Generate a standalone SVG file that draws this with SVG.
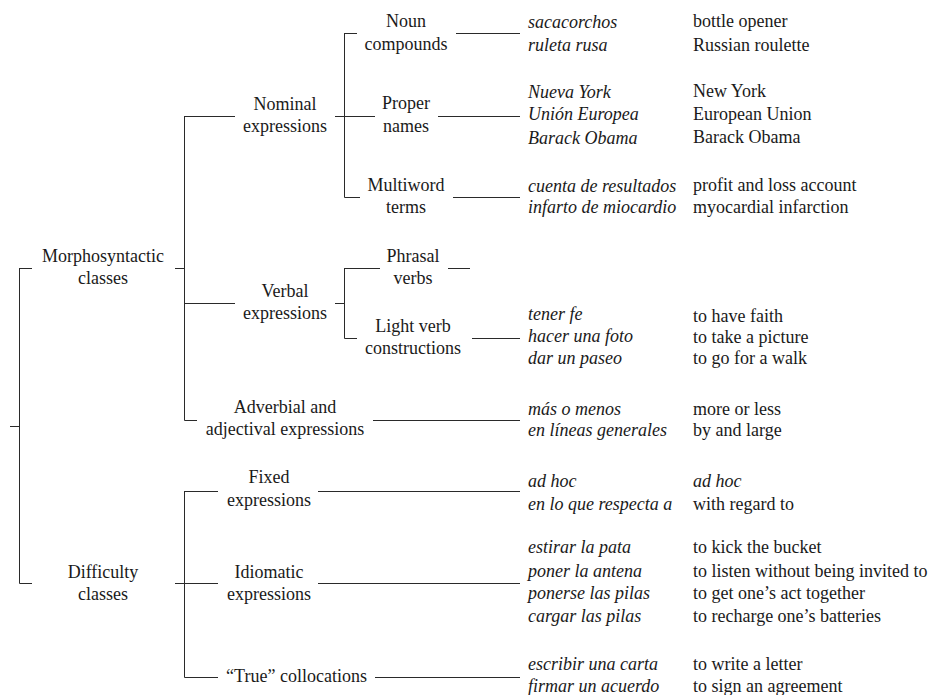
<svg xmlns="http://www.w3.org/2000/svg" width="941" height="695" viewBox="0 0 941 695">
<style>
text{font-family:"Liberation Serif","Times New Roman",serif;font-size:18px;fill:#1a1a1a}
.c{text-anchor:middle}
.i{font-style:italic}
.ln{stroke:#2a2a2a;stroke-width:1;fill:none}
</style>
<rect width="941" height="695" fill="#fff"/>
<g id="connectors" class="ln">
<path d="M10 426.5H19.5M19.5 268V583.5M19.5 268.5H32M19.5 583.5H32"/>
<path d="M175 268.5H184.5M184.5 116V420.5M184.5 116.5H235M184.5 303.5H235M184.5 420.5H197"/>
<path d="M175 583.5H184.5M184.5 491V677.5M184.5 491.5H218M184.5 583.5H218M184.5 677.5H218"/>
<path d="M335 116.5H344.5M344.5 33V197.5M344.5 33.5H357M344.5 116.5H375M344.5 197.5H360"/>
<path d="M335 303.5H344.5M344.5 268V338.5M344.5 268.5H380M344.5 338.5H357"/>
<path d="M456 33.5H520M438 116.5H520M453 197.5H520M448 268.5H470M472 338.5H520M373 420.5H520M318 491.5H520M318 583.5H520M375 677.5H520"/>
</g>
<g id="n-morph"><text class="c" x="103" y="262">Morphosyntactic</text><text class="c" x="103" y="284">classes</text></g>
<g id="n-diff"><text class="c" x="103" y="578">Difficulty</text><text class="c" x="103" y="600">classes</text></g>
<g id="n-nominal"><text class="c" x="285" y="110">Nominal</text><text class="c" x="285" y="132">expressions</text></g>
<g id="n-verbal"><text class="c" x="285" y="297">Verbal</text><text class="c" x="285" y="319">expressions</text></g>
<g id="n-adv"><text class="c" x="285" y="413">Adverbial and</text><text class="c" x="285" y="435">adjectival expressions</text></g>
<g id="n-fixed"><text class="c" x="269" y="483">Fixed</text><text class="c" x="269" y="506">expressions</text></g>
<g id="n-idiom"><text class="c" x="269" y="578">Idiomatic</text><text class="c" x="269" y="600">expressions</text></g>
<g id="n-true"><text class="c" x="296.5" y="682">“True” collocations</text></g>
<g id="n-noun"><text class="c" x="406" y="27">Noun</text><text class="c" x="406" y="50">compounds</text></g>
<g id="n-proper"><text class="c" x="406" y="109">Proper</text><text class="c" x="406" y="132">names</text></g>
<g id="n-multi"><text class="c" x="406" y="191">Multiword</text><text class="c" x="406" y="213">terms</text></g>
<g id="n-phrasal"><text class="c" x="413" y="262">Phrasal</text><text class="c" x="413" y="284">verbs</text></g>
<g id="n-light"><text class="c" x="413" y="332">Light verb</text><text class="c" x="413" y="354">constructions</text></g>
<g id="ex-noun"><text class="i" x="528" y="28">sacacorchos</text><text class="i" x="528" y="51">ruleta rusa</text><text x="693" y="27">bottle opener</text><text x="693" y="51">Russian roulette</text></g>
<g id="ex-proper"><text class="i" x="528" y="98">Nueva York</text><text class="i" x="528" y="120">Unión Europea</text><text class="i" x="528" y="144">Barack Obama</text><text x="693" y="97">New York</text><text x="693" y="120">European Union</text><text x="693" y="143">Barack Obama</text></g>
<g id="ex-multi"><text class="i" x="528" y="192">cuenta de resultados</text><text class="i" x="528" y="213">infarto de miocardio</text><text x="693" y="191">profit and loss account</text><text x="693" y="213">myocardial infarction</text></g>
<g id="ex-light"><text class="i" x="528" y="320">tener fe</text><text class="i" x="528" y="342">hacer una foto</text><text class="i" x="528" y="364">dar un paseo</text><text x="693" y="322">to have faith</text><text x="693" y="343">to take a picture</text><text x="693" y="364">to go for a walk</text></g>
<g id="ex-adv"><text class="i" x="528" y="415">más o menos</text><text class="i" x="528" y="436">en líneas generales</text><text x="693" y="415">more or less</text><text x="693" y="436">by and large</text></g>
<g id="ex-fixed"><text class="i" x="528" y="487">ad hoc</text><text class="i" x="528" y="510">en lo que respecta a</text><text class="i" x="693" y="487">ad hoc</text><text x="693" y="510">with regard to</text></g>
<g id="ex-idiom"><text class="i" x="528" y="553">estirar la pata</text><text class="i" x="528" y="577">poner la antena</text><text class="i" x="528" y="599">ponerse las pilas</text><text class="i" x="528" y="622">cargar las pilas</text><text x="693" y="553">to kick the bucket</text><text x="693" y="577">to listen without being invited to</text><text x="693" y="599">to get one’s act together</text><text x="693" y="622">to recharge one’s batteries</text></g>
<g id="ex-true"><text class="i" x="528" y="670">escribir una carta</text><text class="i" x="528" y="692">firmar un acuerdo</text><text x="693" y="670">to write a letter</text><text x="693" y="692">to sign an agreement</text></g>
</svg>
